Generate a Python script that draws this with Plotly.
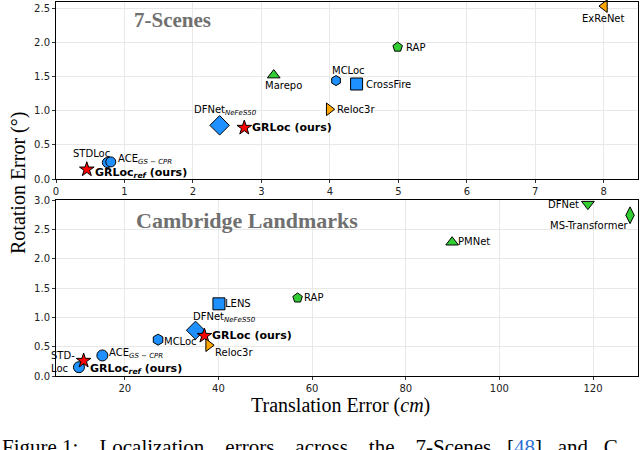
import plotly.graph_objects as go

# ---------------- data ----------------
# 7-Scenes (top panel)
s_methods = ["GRLoc_ref", "STDLoc", "ACE", "DFNet", "GRLoc", "Marepo", "MCLoc", "CrossFire", "Reloc3r", "RAP", "ExReNet"]
s_trans = [0.45, 0.75, 0.80, 2.39, 2.75, 3.18, 4.09, 4.39, 3.99, 4.99, 8.01]
s_rot = [0.14, 0.24, 0.25, 0.785, 0.75, 1.52, 1.44, 1.39, 1.02, 1.93, 2.53]

# Cambridge Landmarks (bottom panel)
c_methods = ["GRLoc_ref_c", "STDLoc_c", "ACE", "MCLoc", "DFNet", "GRLoc", "Reloc3r", "LENS", "RAP", "PMNet", "DFNet_plain", "MS-Transformer"]
c_trans = [10.2, 11.2, 15.2, 27.1, 35.1, 37.0, 37.9, 40.1, 56.9, 89.9, 118.9, 127.9]
c_rot = [0.15, 0.26, 0.35, 0.62, 0.78, 0.685, 0.525, 1.23, 1.33, 2.28, 2.93, 2.74]

x_ticks_top = [0, 1, 2, 3, 4, 5, 6, 7, 8]
x_ticks_bot = [20, 40, 60, 80, 100, 120]
y_ticks_top = [0.0, 0.5, 1.0, 1.5, 2.0, 2.5]
y_ticks_bot = [0.0, 0.5, 1.0, 1.5, 2.0, 2.5, 3.0]

# ---------------- styles ----------------
BLUE = "#1E90FF"
GREEN = "#32CD32"
ORANGE = "#FFA500"
RED = "#FF0000"

style = {
    "GRLoc_ref": ("star", RED, 11),
    "STDLoc": ("circle", BLUE, 10),
    "ACE": ("circle", BLUE, 10),
    "DFNet": ("diamond", BLUE, 15),
    "GRLoc": ("star", RED, 11),
    "Marepo": ("triangle-up", GREEN, 11),
    "MCLoc": ("hexagon", BLUE, 10),
    "CrossFire": ("square", BLUE, 12),
    "Reloc3r": ("triangle-right", ORANGE, 11),
    "RAP": ("pentagon", GREEN, 10),
    "ExReNet": ("triangle-left", ORANGE, 11),
    "GRLoc_ref_c": ("circle", BLUE, 11),
    "STDLoc_c": ("star", RED, 11),
    "LENS": ("square", BLUE, 12),
    "PMNet": ("triangle-up", GREEN, 11),
    "DFNet_plain": ("triangle-down", GREEN, 11),
    "MS-Transformer": ("diamond-tall", GREEN, 12),
}
style_c = dict(style)
style_c["ACE"] = ("circle", BLUE, 11)
style_c["MCLoc"] = ("hexagon", BLUE, 11)
style_c["DFNet"] = ("diamond", BLUE, 14)

sub_ace = "ACE<sub><i>GS − CPR</i></sub>"
sub_df = "DFNet<sub><i>NeFeS50</i></sub>"

# label: text, xanchor, dx(px), dy(px), bold
s_labels = {
    "GRLoc_ref": ("GRLoc<sub><i>ref</i></sub> (ours)", "left", 6, -4, True),
    "STDLoc": ("STDLoc", "center", -16, 9, False),
    "ACE": (sub_ace, "left", 5, 2, False),
    "DFNet": (sub_df, "left", -28, 15, False),
    "GRLoc": ("GRLoc (ours)", "left", 6, 0, True),
    "Marepo": ("Marepo", "center", 10, -10, False),
    "MCLoc": ("MCLoc", "center", 12, 10, False),
    "CrossFire": ("CrossFire", "left", 7, 0, False),
    "Reloc3r": ("Reloc3r", "left", 6, 0, False),
    "RAP": ("RAP", "left", 6, 0, False),
    "ExReNet": ("ExReNet", "center", -1, -12, False),
}
c_labels = {
    "GRLoc_ref_c": ("GRLoc<sub><i>ref</i></sub> (ours)", "left", 9, -2, True),
    "STDLoc_c": ("STD-<br>Loc", "right", -7, -1, False),
    "ACE": (sub_ace, "left", 5, 2, False),
    "MCLoc": ("MCLoc", "left", 4, -2, False),
    "DFNet": (sub_df, "left", -5, 13, False),
    "GRLoc": ("GRLoc (ours)", "left", 6, 0, True),
    "Reloc3r": ("Reloc3r", "left", 4, -7, False),
    "LENS": ("LENS", "left", 4, 0, False),
    "RAP": ("RAP", "left", 4, 0, False),
    "PMNet": ("PMNet", "left", 4, 1, False),
    "DFNet_plain": ("DFNet", "right", -7, 0, False),
    "MS-Transformer": ("MS-Transformer", "right", 1, -10, False),
}

fig = go.Figure()
annotations = []
LABEL_FONT = "DejaVu Sans"

def add_panel(methods, xs, ys, sty, labels, xref, yref):
    for m, xv, yv in zip(methods, xs, ys):
        sym, col, size = sty[m]
        fig.add_trace(go.Scatter(
            x=[xv], y=[yv], mode="markers", xaxis=xref, yaxis=yref,
            marker=dict(symbol=sym, color=col, size=size,
                        line=dict(color="black", width=1)),
            showlegend=False, hoverinfo="skip", cliponaxis=False))
        txt, xa, dx, dy, bold = labels[m]
        annotations.append(dict(
            x=xv, y=yv, xref=xref, yref=yref,
            text=("<b>" + txt + "</b>") if bold else txt,
            showarrow=False, xanchor=xa, yanchor="middle", align="left",
            xshift=dx, yshift=dy,
            font=dict(family=LABEL_FONT, size=11 if bold else 10, color="black"),
        ))

add_panel(s_methods, s_trans, s_rot, style, s_labels, "x", "y")
add_panel(c_methods, c_trans, c_rot, style_c, c_labels, "x2", "y2")

W, H = 640, 450
def px_x(p):
    return p / W
def px_y(p):
    return 1 - p / H

axis_common = dict(
    showgrid=True, gridcolor="#e8e8e8", gridwidth=1,
    showline=True, linecolor="black", linewidth=1, mirror=True,
    ticks="outside", ticklen=3, tickcolor="#333", tickwidth=1,
    tickfont=dict(family="DejaVu Sans", size=10, color="#222"),
    zeroline=False, automargin=False,
)

fig.update_layout(
    width=W, height=H,
    margin=dict(l=0, r=0, t=0, b=0, autoexpand=False),
    paper_bgcolor="white", plot_bgcolor="white",
    xaxis=dict(axis_common, domain=[px_x(56), px_x(638)], range=[0, 8.5],
               tickvals=x_ticks_top, anchor="y"),
    yaxis=dict(axis_common, domain=[px_y(179), px_y(2)], range=[0, 2.59],
               tickvals=y_ticks_top, tickformat=".1f", anchor="x"),
    xaxis2=dict(axis_common, domain=[px_x(56), px_x(638)], range=[5.3, 129.6],
                tickvals=x_ticks_bot, anchor="y2"),
    yaxis2=dict(axis_common, domain=[px_y(376), px_y(200)], range=[0, 3.0],
                tickvals=y_ticks_bot, tickformat=".1f", anchor="x2"),
)

SERIF = "Liberation Serif"
S4 = "&nbsp;" * 4
S3 = "&nbsp;" * 3
caption = ("Figure 1:" + S4 + "Localization" + S4 + "errors" + S4 + "across" + S4 + "the" + S4 +
           "7-Scenes" + S3 + "[<span style='color:#2a6fd6'>48</span>]" + S3 + "and" + S3 + "C")
annotations += [
    dict(text="<b>7-Scenes</b>", x=px_x(172), y=px_y(20), xref="paper", yref="paper",
         showarrow=False, xanchor="center", yanchor="middle",
         font=dict(family=SERIF, size=21, color="#707070")),
    dict(text="<b>Cambridge Landmarks</b>", x=px_x(247), y=px_y(220), xref="paper", yref="paper",
         showarrow=False, xanchor="center", yanchor="middle",
         font=dict(family=SERIF, size=22, color="#707070")),
    dict(text="Rotation Error (°)", x=px_x(18), y=px_y(183), xref="paper", yref="paper",
         showarrow=False, xanchor="center", yanchor="middle", textangle=-90,
         font=dict(family=SERIF, size=20, color="black")),
    dict(text="Translation Error (<i>cm</i>)", x=px_x(340), y=px_y(405), xref="paper", yref="paper",
         showarrow=False, xanchor="center", yanchor="middle",
         font=dict(family=SERIF, size=20, color="black")),
    dict(text=caption,
         x=0, y=px_y(433), xref="paper", yref="paper",
         showarrow=False, xanchor="left", yanchor="top",
         font=dict(family=SERIF, size=21, color="black")),
]
fig.update_layout(annotations=annotations)

fig.write_html("out.html",
               config={"displayModeBar": False},
               post_script="document.body.style.margin='0px';document.body.style.padding='0px';")
